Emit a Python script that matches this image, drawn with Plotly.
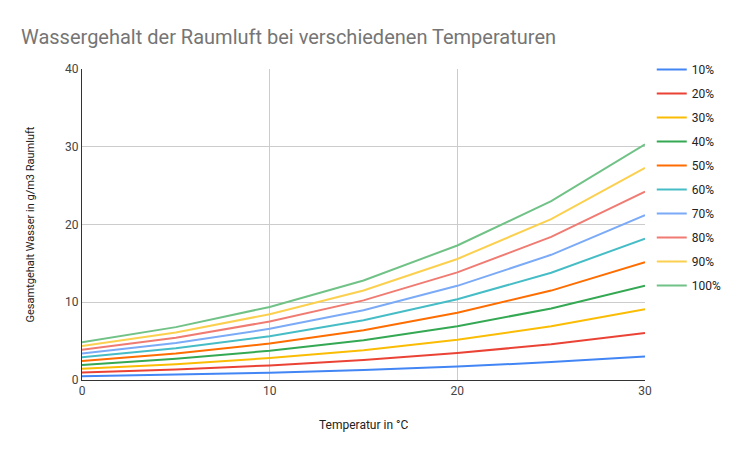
import plotly.graph_objects as go

# Temperaturen in °C
temperatures = [0, 5, 10, 15, 20, 25, 30]

# Wassergehalt (g/m3) je relativer Luftfeuchte
rh_10 = [0.49, 0.68, 0.94, 1.28, 1.73, 2.30, 3.03]
rh_20 = [0.97, 1.36, 1.88, 2.56, 3.46, 4.60, 6.06]
rh_30 = [1.46, 2.04, 2.82, 3.84, 5.19, 6.90, 9.09]
rh_40 = [1.94, 2.72, 3.76, 5.12, 6.92, 9.20, 12.12]
rh_50 = [2.43, 3.40, 4.70, 6.40, 8.65, 11.50, 15.15]
rh_60 = [2.91, 4.08, 5.64, 7.68, 10.38, 13.80, 18.18]
rh_70 = [3.40, 4.76, 6.58, 8.96, 12.11, 16.10, 21.21]
rh_80 = [3.88, 5.44, 7.52, 10.24, 13.84, 18.40, 24.24]
rh_90 = [4.37, 6.12, 8.46, 11.52, 15.57, 20.70, 27.27]
rh_100 = [4.85, 6.80, 9.40, 12.80, 17.30, 23.00, 30.30]

series_names = ["10%", "20%", "30%", "40%", "50%", "60%", "70%", "80%", "90%", "100%"]
series_values = [rh_10, rh_20, rh_30, rh_40, rh_50, rh_60, rh_70, rh_80, rh_90, rh_100]
colors = ["#4285F4", "#EA4335", "#FBBC04", "#34A853", "#FF6D01",
          "#46BDC6", "#7BAAF7", "#F07B72", "#FCD04F", "#71C287"]

fig = go.Figure()
for i, (name, vals) in enumerate(zip(series_names, series_values)):
    fig.add_trace(go.Scatter(
        x=temperatures, y=vals, name=name, mode="lines",
        line=dict(color=colors[i], width=2),
        legendgroup=name,
    ))

# Seite hat 8px Body-Rand -> Plotbereich im Figure: 74..637 px, 61..372 px
fig.update_layout(
    width=744, height=456,
    margin=dict(l=74, r=107, t=47, b=84, autoexpand=False),
    paper_bgcolor="white", plot_bgcolor="white",
    font=dict(family="Roboto, Arial, sans-serif", color="#222222", size=12),
    title=dict(
        text="Wassergehalt der Raumluft bei verschiedenen Temperaturen",
        x=13 / 744, xanchor="left", y=1 - 29 / 456, yanchor="middle",
        font=dict(size=20, color="#757575"),
    ),
    legend=dict(
        x=1.012, xanchor="left", y=1.0, yanchor="top",
        font=dict(size=12, color="#222222"),
        tracegroupgap=5, itemwidth=30, maxheight=400,
    ),
    showlegend=True,
    annotations=[
        dict(text="Temperatur in °C", xref="paper", yref="paper",
             x=0.5, y=-45 / 325, xanchor="center", yanchor="middle",
             showarrow=False, font=dict(size=12, color="#222222")),
        dict(text="Gesamtgehalt Wasser in g/m3 Raumluft", xref="paper", yref="paper",
             x=-52 / 563, y=155.5 / 325, xanchor="center", yanchor="middle",
             textangle=-90, showarrow=False, font=dict(size=11, color="#222222")),
    ],
)

fig.update_xaxes(
    range=[0, 30], dtick=10, showgrid=True, gridcolor="#cccccc",
    showline=True, linecolor="#333333", linewidth=1, automargin=False,
    zeroline=False, ticks="", tickfont=dict(size=12, color="#444444"),
)
fig.update_yaxes(
    range=[0, 40], dtick=10, showgrid=True, gridcolor="#cccccc",
    domain=[0, 311 / 325],
    showline=True, linecolor="#333333", linewidth=1, automargin=False,
    zeroline=False, ticks="", tickfont=dict(size=12, color="#444444"),
)

fig.write_html("out.html")
